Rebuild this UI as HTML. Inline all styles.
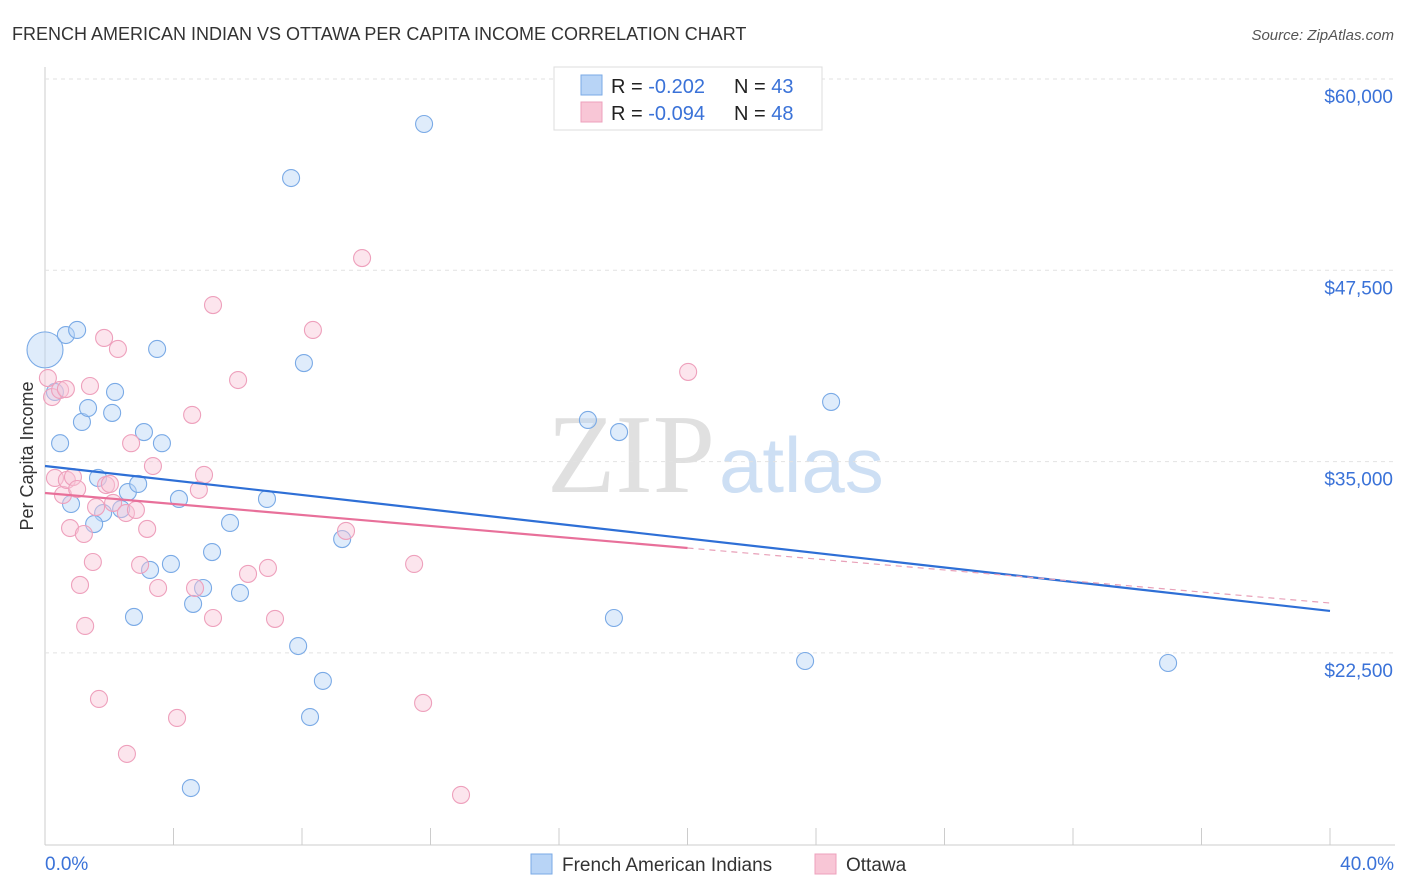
<!DOCTYPE html>
<html><head><meta charset="utf-8"><style>
body{margin:0;background:#fff;font-family:"Liberation Sans",sans-serif;}
svg{display:block}
</style></head><body>
<svg id="c" width="1406" height="892">
<text x="12" y="40" font-size="18" fill="#333">FRENCH AMERICAN INDIAN VS OTTAWA PER CAPITA INCOME CORRELATION CHART</text>
<text x="1394" y="40" font-size="15" fill="#555" font-style="italic" text-anchor="end">Source: ZipAtlas.com</text>
<text x="33" y="456" font-size="18" fill="#333" transform="rotate(-90 33 456)" text-anchor="middle">Per Capita Income</text>
<text x="715" y="492" font-size="112" fill="#e0e0e0" text-anchor="end" font-family="Liberation Serif,serif">ZIP</text>
<text x="719" y="492" font-size="78" fill="#cddff4">atlas</text>
<g id="grid"></g><g id="pts"></g><g id="lines"></g>
<g>
<rect x="554" y="67" width="268" height="63" fill="#fff" stroke="#ddd"/>
<rect x="581" y="75" width="21" height="20" fill="#b8d4f6" stroke="#7aaae6"/>
<rect x="581" y="102" width="21" height="20" fill="#f8c6d6" stroke="#eea0bc"/>
<text x="611" y="93" font-size="20" fill="#222">R = <tspan fill="#3a72d8">-0.202</tspan><tspan x="734">N = </tspan><tspan fill="#3a72d8">43</tspan></text>
<text x="611" y="120" font-size="20" fill="#222">R = <tspan fill="#3a72d8">-0.094</tspan><tspan x="734">N = </tspan><tspan fill="#3a72d8">48</tspan></text>
</g>
<g>
<rect x="531" y="854" width="21" height="20" fill="#b8d4f6" stroke="#7aaae6"/>
<text x="562" y="871" font-size="19" fill="#333">French American Indians</text>
<rect x="815" y="854" width="21" height="20" fill="#f8c6d6" stroke="#eea0bc"/>
<text x="846" y="871" font-size="19" fill="#333">Ottawa</text>
</g>
<text x="45" y="870" font-size="19" fill="#3a72d8">0.0%</text>
<text x="1394" y="870" font-size="19" fill="#3a72d8" text-anchor="end">40.0%</text>
</svg>
<script>
const yTicks=[60000,47500,35000,22500];
const yTickLabels=["$60,000","$47,500","$35,000","$22,500"];
const xTicks=[0,4,8,12,16,20,24,28,32,36,40];
const blueX=[0,0.31,0.47,0.65,1.0,1.15,1.34,2.18,2.09,0.81,1.65,1.81,1.53,2.37,2.58,2.9,3.08,3.49,3.64,4.17,3.27,3.92,2.77,4.61,4.92,5.2,5.76,6.07,6.91,7.66,8.06,7.88,8.65,8.25,4.54,9.25,11.8,16.9,17.87,17.71,23.66,24.47,34.96];
const blueY=[42300,39550,36200,43270,43600,37590,38500,39550,38180,32230,33930,31640,30920,31900,33010,33540,36930,42360,36200,32560,27920,28310,24850,25700,26740,29090,30990,26420,32560,53530,41440,22950,20670,18310,13670,29940,57060,37720,36930,24780,21970,38900,21840];
const pinkX=[0.09,0.22,0.47,0.65,0.31,0.56,0.68,0.87,1.0,0.78,1.21,1.09,1.25,1.4,1.49,1.59,1.84,1.9,2.02,2.27,2.12,2.52,2.83,2.68,2.96,3.18,3.36,3.52,1.68,2.55,4.11,4.58,4.79,4.95,4.67,5.23,5.23,6.01,6.32,6.94,7.16,8.34,9.37,9.87,11.49,11.77,12.95,20.02];
const pinkY=[40460,39220,39680,39740,33930,32820,33800,33990,33210,30660,30270,26940,24260,39940,28440,32030,43080,33470,33540,42360,32300,31640,31840,36200,28250,30600,34710,26740,19490,15900,18250,38050,33150,34130,26740,24780,45230,40330,27660,28050,24720,43600,30470,48300,28310,19230,13220,40860];
const blueTrend=[34713,25240];
const pinkTrend=[32950,25760];
const ns="http://www.w3.org/2000/svg";
const X=v=>45+v*1285/40, Y=v=>79+(60000-v)*191.3/12500;
function mk(t,a,p){const e=document.createElementNS(ns,t);for(const k in a)e.setAttribute(k,a[k]);p.appendChild(e);return e;}
const g=document.getElementById('grid');
mk('line',{x1:45,y1:67,x2:45,y2:845,stroke:'#ccc'},g);
mk('line',{x1:45,y1:845,x2:1395,y2:845,stroke:'#ccc'},g);
yTicks.forEach((t,i)=>{
 const l=mk('line',{x1:45,y1:Y(t),x2:1395,y2:Y(t),stroke:'#e2e2e2','stroke-dasharray':'4,4'},g);
 
 
 const tx=mk('text',{x:1393,y:Y(t)+24,'font-size':19,fill:'#3a72d8','text-anchor':'end'},g);
 tx.textContent=yTickLabels[i];
 
 
});
xTicks.forEach(t=>{
 const l=mk('line',{x1:X(t),y1:828,x2:X(t),y2:845,stroke:'#ccc'},g);
 
 
});
const p=document.getElementById('pts');
function dots(xs,ys,fill,stroke,name){xs.forEach((x,i)=>{
 const c=mk('circle',{cx:X(x),cy:Y(ys[i]),r:(name==='blue-point'&&i===0)?18:8.5,fill:fill,'fill-opacity':0.45,stroke:stroke,'stroke-width':1.1},p);
 
 
});}
dots(blueX,blueY,'#b8d4f6','#7aaae6','blue-point');
dots(pinkX,pinkY,'#f8c6d6','#eea0bc','pink-point');
const L=document.getElementById('lines');
const bl=mk('line',{x1:X(0),y1:Y(blueTrend[0]),x2:X(40),y2:Y(blueTrend[1]),stroke:'#2e6fd6','stroke-width':2.2},L);


const pm=v=>pinkTrend[0]+(pinkTrend[1]-pinkTrend[0])*v/40;
const ps=mk('line',{x1:X(0),y1:Y(pm(0)),x2:X(20),y2:Y(pm(20)),stroke:'#e8709a','stroke-width':2.2},L);


const pd=mk('line',{x1:X(20),y1:Y(pm(20)),x2:X(40),y2:Y(pm(40)),stroke:'#e8a0b8','stroke-width':1.2,'stroke-dasharray':'6,5'},L);


</script>
</body></html>
